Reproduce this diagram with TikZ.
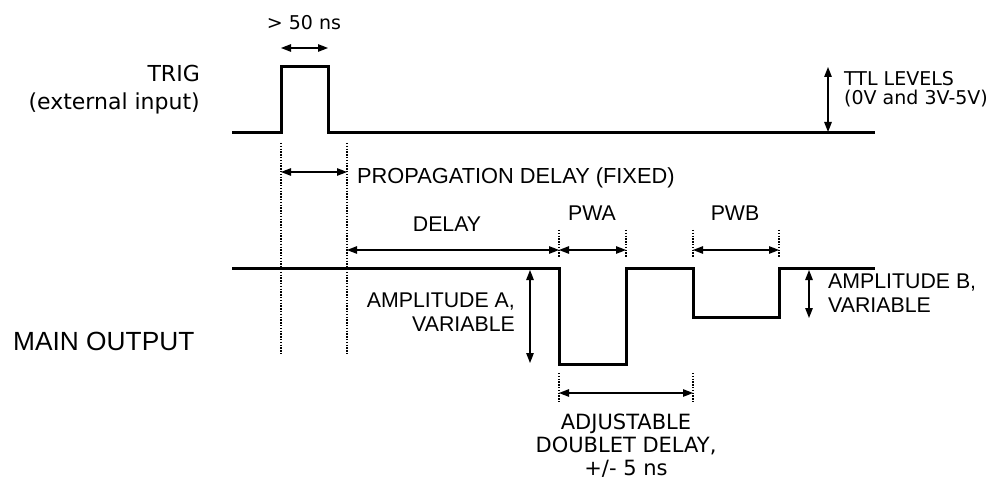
\documentclass[tikz,border=0pt]{standalone}
\usepackage{fontspec}
\setmainfont{Liberation Sans}
\newfontfamily\verdfont{DejaVu Sans}
\usetikzlibrary{arrows.meta}

\begin{document}
\begin{tikzpicture}[x=1pt, y=-1pt, >={Triangle[length=10pt, width=7.5pt]},
    signal/.style={line width=3pt, line join=miter},
    dim/.style={<->, line width=1.3pt},
    marker/.style={line width=1.4pt, dash pattern=on 1.4pt off 1.4pt},
    lbl/.style={font=\fontsize{21.3}{24}\selectfont, inner sep=0pt},
    vlbl/.style={font=\verdfont\fontsize{21}{23.5}\selectfont, inner sep=0pt}]

\useasboundingbox (0,0) rectangle (993,481);

% =============================================
% SEÑAL TRIG
% =============================================
\node[vlbl, font=\verdfont\fontsize{22}{28}\selectfont, anchor=base east, align=right] (trig) at (200,110) {TRIG\\(external input)};

\draw[signal] (232,133) -- (281,133) -- (281,67) -- (328,67) -- (328,133) -- (875,133);

% Ancho minimo del pulso
\draw[dim] (281,48) -- (328,48);
\node[vlbl, font=\verdfont\fontsize{19}{22}\selectfont, anchor=base] (width) at (304,30) {> 50 ns};

% Niveles TTL
\draw[dim] (828,67) -- (828,132);
\node[vlbl, font=\verdfont\fontsize{19}{19}\selectfont, anchor=base west, align=left] (ttl) at (844,105) {TTL LEVELS\\(0V and 3V-5V)};

% =============================================
% LINEAS DE REFERENCIA
% =============================================
\draw[marker] (281,143) -- (281,355);
\draw[marker] (347,143) -- (347,355);
\draw[marker] (559,230) -- (559,257);
\draw[marker] (626,230) -- (626,257);
\draw[marker] (693,230) -- (693,257);
\draw[marker] (779,230) -- (779,257);
\draw[marker] (559,373) -- (559,402);
\draw[marker] (693,373) -- (693,402);

% Retardo de propagacion
\draw[dim] (281,172) -- (347,172);
\node[lbl, font=\fontsize{21.8}{24}\selectfont, anchor=base west] (prop) at (357,184) {PROPAGATION DELAY (FIXED)};

% =============================================
% SALIDA PRINCIPAL
% =============================================
\node[lbl, font=\fontsize{26.3}{30}\selectfont, anchor=base west] (main) at (13,350) {MAIN OUTPUT};

\draw[signal] (232,268) -- (559,268) -- (559,364) -- (626,364) -- (626,268) -- (693,268)
    -- (693,317) -- (779,317) -- (779,268) -- (875,268);

% Retardo y anchos de pulso
\draw[dim] (347,250) -- (559,250);
\node[lbl, anchor=base] (delay) at (447,232) {DELAY};
\draw[dim] (559,250) -- (626,250);
\node[lbl, anchor=base] (pwa) at (592,221) {PWA};
\draw[dim] (693,250) -- (779,250);
\node[lbl, anchor=base] (pwb) at (735,221) {PWB};

% Amplitudes
\draw[dim] (530,270) -- (530,363);
\node[lbl, anchor=base east, align=right] (ampa) at (515,331) {AMPLITUDE A,\\VARIABLE};
\draw[dim] (809,270) -- (809,318);
\node[lbl, anchor=base west, align=left] (ampb) at (828,312) {AMPLITUDE B,\\VARIABLE};

% Retardo del doblete
\draw[dim] (559,393) -- (693,393);
\node[vlbl, font=\verdfont\fontsize{21}{23}\selectfont, anchor=base, align=center] (doublet) at (626,475) {ADJUSTABLE\\DOUBLET DELAY,\\+/- 5 ns};

\end{tikzpicture}
\end{document}
